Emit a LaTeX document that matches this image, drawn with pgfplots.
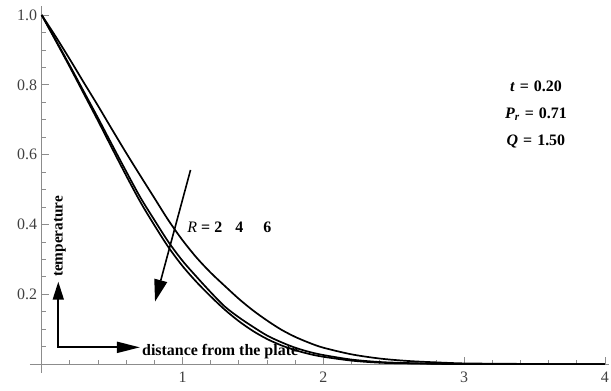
\documentclass[border=0pt]{standalone}
\usepackage{fontspec}
\setmainfont{Liberation Serif}
\usepackage{pgfplots}
\pgfplotsset{compat=1.18}
\usetikzlibrary{arrows.meta}

\pgfplotstableread{
x y
0.0 1.000
0.1 0.938
0.2 0.873
0.3 0.806
0.4 0.740
0.5 0.672
0.6 0.605
0.7 0.540
0.8 0.476
0.9 0.412
1.0 0.355
1.1 0.305
1.2 0.262
1.3 0.224
1.4 0.187
1.5 0.154
1.6 0.125
1.7 0.099
1.8 0.078
1.9 0.061
2.0 0.047
2.2 0.028
2.4 0.016
2.6 0.009
2.8 0.005
3.0 0.002
3.3 0.001
3.6 0.000
4.0 0.000
}\Rtwo

\pgfplotstableread{
x y
0.0 1.000
0.1 0.928
0.2 0.855
0.3 0.780
0.4 0.705
0.5 0.628
0.6 0.552
0.7 0.478
0.8 0.413
0.9 0.350
1.0 0.296
1.1 0.250
1.2 0.206
1.3 0.165
1.4 0.134
1.5 0.107
1.6 0.082
1.7 0.063
1.8 0.047
1.9 0.035
2.0 0.026
2.2 0.013
2.4 0.006
2.6 0.003
2.8 0.001
3.0 0.000
4.0 0.000
}\Rfour

\pgfplotstableread{
x y
0.0 1.000
0.1 0.926
0.2 0.851
0.3 0.774
0.4 0.697
0.5 0.618
0.6 0.540
0.7 0.465
0.8 0.398
0.9 0.335
1.0 0.281
1.1 0.235
1.2 0.194
1.3 0.156
1.4 0.123
1.5 0.095
1.6 0.072
1.7 0.054
1.8 0.040
1.9 0.029
2.0 0.021
2.2 0.010
2.4 0.004
2.6 0.002
2.8 0.001
3.0 0.000
4.0 0.000
}\Rsix

\newcommand{\eqsp}{\hspace{5bp}=\hspace{5bp}}

\begin{document}
\begin{tikzpicture}
\begin{axis}[
  scale only axis, width=579.1bp, height=366.5bp,
  xmin=-0.083, xmax=4.03, ymin=-0.025, ymax=1.025,
  axis lines=middle,
  axis line style={-, draw=black!45, line width=0.8bp},
  xtick={1,2,3,4}, ytick={0.2,0.4,0.6,0.8,1.0},
  minor xtick={0.2,0.4,0.6,0.8,1.2,1.4,1.6,1.8,2.2,2.4,2.6,2.8,3.2,3.4,3.6,3.8},
  minor ytick={0.05,0.1,0.15,0.25,0.3,0.35,0.45,0.5,0.55,0.65,0.7,0.75,0.85,0.9,0.95},
  tick align=inside,
  major tick length=7bp, minor tick length=4.5bp,
  tick style={black!45, line width=0.8bp},
  /pgf/number format/assume math mode=true,
  yticklabel style={xshift=-1bp, /pgf/number format/.cd, fixed, fixed zerofill, precision=1},
  ticklabel style={font=\fontsize{16}{18}\selectfont, text=black!75},
  xticklabel style={yshift=-4bp},
  clip=false,
]
\addplot[black, line width=1.7bp, smooth] table[x=x,y=y] {\Rtwo};
\addplot[black, line width=1.7bp, smooth] table[x=x,y=y] {\Rfour};
\addplot[black, line width=1.7bp, smooth] table[x=x,y=y] {\Rsix};

\node[anchor=base, font=\fontsize{16}{18}\selectfont\bfseries] at (axis cs:3.51,0.780) {\textit{t}\eqsp0.20};
\node[anchor=base, font=\fontsize{16}{18}\selectfont\bfseries] at (axis cs:3.51,0.704) {\textit{P}\textsubscript{\textit{r}}\eqsp0.71};
\node[anchor=base, font=\fontsize{16}{18}\selectfont\bfseries] at (axis cs:3.51,0.627) {\textit{Q}\eqsp1.50};

\node[anchor=base west, inner sep=0, font=\fontsize{16}{18}\selectfont\bfseries] at (axis cs:1.034,0.377) {\textmd{\textit{R}}\hspace{4bp}=\hspace{4bp}2\hspace{13bp}4\hspace{20bp}6};

\draw[-{Triangle[length=22bp,width=13bp]}, line width=1.6bp] (axis cs:1.057,0.556) -- (axis cs:0.805,0.179);

\draw[{Triangle[length=18bp,width=11bp]}-{Triangle[length=23bp,width=11bp]}, line width=1.7bp]
  (axis cs:0.118,0.236) -- (axis cs:0.118,0.048) -- (axis cs:0.698,0.048);

\node[rotate=90, anchor=west, inner sep=0, font=\fontsize{15.3}{17}\selectfont\bfseries] at (axis cs:0.130,0.249) {temperature};
\node[anchor=base west, inner sep=0, font=\fontsize{16}{18}\selectfont\bfseries] at (axis cs:0.712,0.026) {distance from the plate};

\coordinate (BL) at (axis cs:-0.296,-0.0745);
\coordinate (TR) at (axis cs:4.043,1.043);
\end{axis}
\pgfresetboundingbox
\path[use as bounding box] (BL) rectangle (TR);
\end{tikzpicture}
\end{document}
